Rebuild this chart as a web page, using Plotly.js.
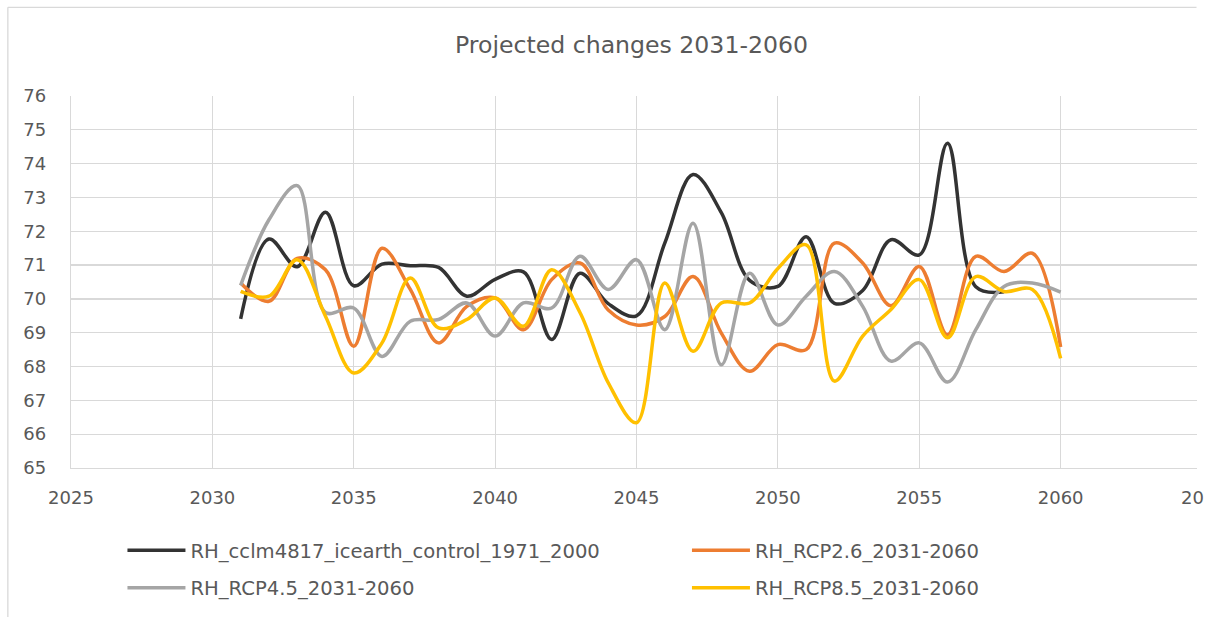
<!DOCTYPE html>
<html>
<head>
<meta charset="utf-8">
<script src="https://cdn.plot.ly/plotly-3.0.1.min.js"></script>
<style>html,body{margin:0;padding:0;background:#fff;}#chart{width:1208px;height:617px;}</style>
</head>
<body>
<div id="chart"></div>
<script>
// ---- data ----
const years = [2031,2032,2033,2034,2035,2036,2037,2038,2039,2040,2041,2042,2043,2044,2045,
               2046,2047,2048,2049,2050,2051,2052,2053,2054,2055,2056,2057,2058,2059,2060];
const seriesNames = ["RH_cclm4817_icearth_control_1971_2000","RH_RCP2.6_2031-2060",
                     "RH_RCP4.5_2031-2060","RH_RCP8.5_2031-2060"];
const control = [69.41,71.77,70.95,72.56,70.39,71.03,70.98,70.93,70.08,70.58,70.8,68.8,70.76,69.86,69.5,
                 71.65,73.68,72.55,70.55,70.37,71.84,69.87,70.25,71.75,71.3,74.6,70.36,70.21];
const rcp26 = [70.47,69.93,71.2,70.86,68.6,71.5,70.28,68.7,69.78,70.03,69.09,70.57,71.06,69.67,69.23,
               69.48,70.66,68.99,67.86,68.65,68.5,71.65,71.06,69.8,70.96,68.94,71.26,70.81,71.35,68.58];
const rcp45 = [70.4,72.34,73.35,69.6,69.73,68.3,69.34,69.39,69.88,68.9,69.88,69.73,71.26,70.28,71.16,
               69.09,72.24,68.05,70.76,69.23,70.08,70.81,69.78,68.16,68.7,67.54,69.09,70.37,70.47,70.2];
const rcp85 = [70.22,70.08,71.16,69.49,67.81,68.7,70.62,69.14,69.39,70.03,69.19,70.86,69.6,67.52,66.34,
               70.47,68.45,69.88,69.88,70.9,71.6,67.57,68.9,69.69,70.57,68.85,70.66,70.22,70.28,68.24];
const xTicks = [2025,2030,2035,2040,2045,2050,2055,2060,2065];
const xTickText = ["2025","2030","2035","2040","2045","2050","2055","2060",""];
const cutTickText = "20";   // the last x label, cut off at the picture's right edge in the reference
const yTicks = [65,66,67,68,69,70,71,72,73,74,75,76];

// ---- styling ----
const W = 1208, H = 617;
const L = 70.5, R = 1202.5, T = 96, B = 468;
const px = x => (x - L) / (R - L);
const py = y => (B - y) / (B - T);
const FONT = "'DejaVu Sans', sans-serif";
const TXT = "#595959";
const GRID = "#d9d9d9";

function tr(vals, name, color, legend) {
  return {
    x: years.slice(0, vals.length), y: vals, name: name, type: "scatter", mode: "lines",
    line: {color: color, width: 3.5, shape: "spline", smoothing: 1},
    legend: legend, legendgroup: name, hoverinfo: "skip"
  };
}
const data = [
  tr(control, seriesNames[0], "#333333", "legend"),
  tr(rcp26, seriesNames[1], "#ED7D31", "legend2"),
  tr(rcp45, seriesNames[2], "#A5A5A5", "legend"),
  tr(rcp85, seriesNames[3], "#FFC000", "legend2")
];

const legendCommon = {
  orientation: "v", xanchor: "left", yanchor: "top",
  font: {family: FONT, size: 19.6, color: TXT}, itemwidth: 58,
  bgcolor: "rgba(0,0,0,0)", borderwidth: 0, tracegroupgap: 9, traceorder: "grouped"
};

const layout = {
  width: W, height: H,
  margin: {l: L, r: W - R, t: T, b: H - B, pad: 0},
  paper_bgcolor: "#fff", plot_bgcolor: "#fff",
  showlegend: true,
  title: {text: "Projected changes 2031-2060", font: {family: FONT, size: 23.6, color: TXT},
          x: px(631.5), xanchor: "center", xref: "paper", y: 1 - 45 / H, yanchor: "middle", yref: "container"},
  xaxis: {range: [2025, 2065], tickvals: xTicks, ticktext: xTickText, showgrid: true, gridcolor: GRID, gridwidth: 1.2,
          showline: true, linecolor: GRID, linewidth: 1.3, zeroline: false, ticks: "",
          ticklabelstandoff: 13,
          tickfont: {family: FONT, size: 18, color: TXT}, fixedrange: true},
  yaxis: {range: [65, 76], tickvals: yTicks, showgrid: true, gridcolor: GRID, gridwidth: 1.2,
          showline: true, linecolor: GRID, linewidth: 1.3, zeroline: false, ticks: "",
          ticklabelstandoff: 20, tickfont: {family: FONT, size: 18, color: TXT}, fixedrange: true},
  legend: Object.assign({}, legendCommon, {x: px(122), y: py(531)}),
  legend2: Object.assign({}, legendCommon, {x: px(687), y: py(531)}),
  annotations: [
    {text: cutTickText, xref: "paper", yref: "paper", x: px(1179.5), y: py(497.5),
     xanchor: "left", yanchor: "middle", showarrow: false,
     font: {family: FONT, size: 18, color: TXT}}
  ],
  shapes: [
    {type: "rect", xref: "paper", yref: "paper", x0: px(1197.5), x1: px(1230), y0: py(-5), y1: py(625),
     fillcolor: "#fff", line: {width: 0}, layer: "above"},
    {type: "line", xref: "paper", yref: "paper", x0: px(7.3), x1: px(7.3), y0: py(7.3), y1: py(620),
     line: {color: GRID, width: 1.3}, layer: "above"},
    {type: "line", xref: "paper", yref: "paper", x0: px(7.3), x1: px(1197), y0: py(7.3), y1: py(7.3),
     line: {color: GRID, width: 1.3}, layer: "above"}
  ]
};

Plotly.newPlot("chart", data, layout, {staticPlot: true, displayModeBar: false});
</script>
</body>
</html>
